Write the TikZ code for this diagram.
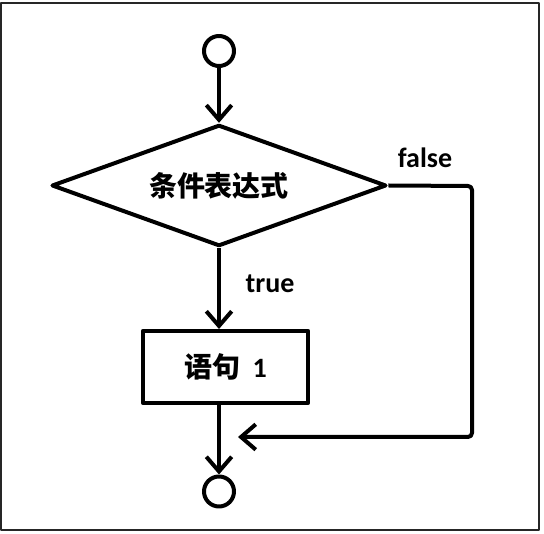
\documentclass[tikz,border=0pt]{standalone}
\usepackage{fontspec}
\setmainfont{Carlito}
\newfontfamily\cjk{Noto Sans CJK SC}
\usetikzlibrary{shapes.geometric,arrows.meta}
\begin{document}
\begin{tikzpicture}[x=0.75pt,y=-0.75pt,
  line width=3pt, line join=round,
  every node/.style={font=\fontsize{21}{25}\selectfont\bfseries},
  flow/.style={-{Straight Barb[length=11pt,width=19pt]}},
  term/.style={circle,draw,inner sep=0pt,minimum size=22.5pt},
  decision/.style={diamond,draw,inner sep=0pt,minimum width=251pt,minimum height=91pt,aspect=2.75},
  process/.style={rectangle,draw,inner sep=0pt,minimum width=124pt,minimum height=54pt},
  lbl/.style={inner sep=0pt}
]
\useasboundingbox (0,0) rectangle (544,534);
\fill[white] (0,0) rectangle (544,534);
\draw[line width=1.2pt,black!85] (1,3) rectangle (539,530);

\node[term] (start) at (219,51) {};
\node[decision] (dia) at (219,185.5) {\cjk 条件表达式};
\node[process] (box) at (225.5,367) {{\cjk 语句}\hspace{0.45em}1};
\node[term] (stop) at (219,491.5) {};

\node[lbl] (ltrue) at (270,284) {true};
\node[lbl] (lfalse) at (425,158) {false};

\coordinate (c1) at (472,186);
\coordinate (c2) at (472,437);
\coordinate (m) at (238,437);

\draw[flow] (start) -- (dia.north);
\draw[flow] (dia.south) -- (box.north -| dia.south);
\draw[flow] (box.south -| stop) -- (stop);
\draw[flow,rounded corners=3pt] (dia.east) -- (c1) -- (c2) -- (m);
\end{tikzpicture}
\end{document}
